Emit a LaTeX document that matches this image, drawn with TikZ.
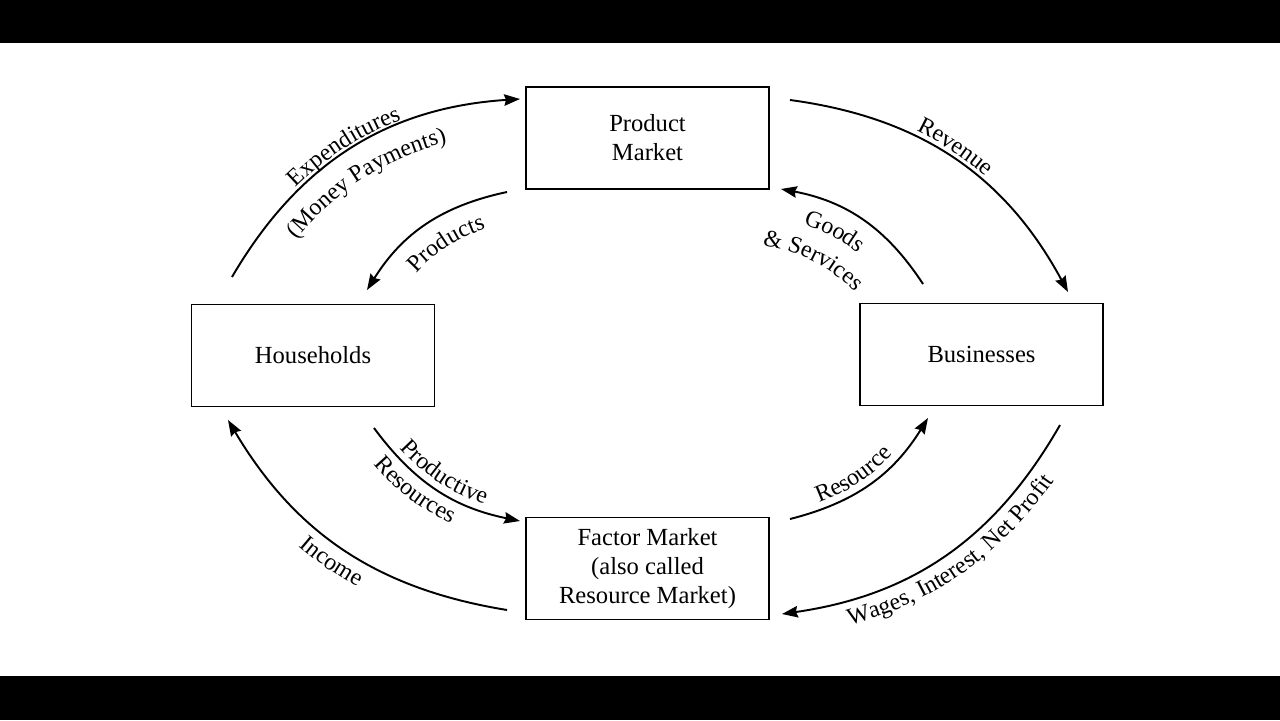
\documentclass[tikz,border=0pt]{standalone}
\usepackage{fontspec}
\setmainfont{Liberation Serif}
\usetikzlibrary{arrows.meta,decorations.text,calc}
\newcommand\lblfont{\fontsize{13.6}{16}\selectfont}
\begin{document}
\begin{tikzpicture}[x=0.02cm,y=-0.02cm,
  box/.style={draw, line width=1.1pt, minimum width=4.86cm, minimum height=2.04cm, align=center, font=\fontsize{14}{16.5}\selectfont, inner sep=0pt},
  flow/.style={line width=1.1pt, -{Stealth[length=9pt,width=6.5pt,inset=1pt]}},
  ctext/.style 2 args={decorate, decoration={text along path, text align={#1}, text={|\lblfont|#2}}}]
\useasboundingbox (0,0) rectangle (1280,720);
\fill[black] (0,0) rectangle (1280,43);
\fill[black] (0,676) rectangle (1280,720);
% boxes
\node[box] (pm) at (647.5,138) {Product\\Market};
\node[box] (hh) at (313,355.5) {Households};
\node[box] (bs) at (981.5,354.5) {Businesses};
\node[box] (fm) at (647.5,568.5) {Factor Market\\(also called\\Resource Market)};
% connector ends
\coordinate (exA) at (232,277);  \coordinate (exB) at (520,99);
\coordinate (prA) at (507,192);  \coordinate (prB) at (367,290);
\coordinate (rvA) at (790,100);  \coordinate (rvB) at (1068,292);
\coordinate (gsA) at (923,284);  \coordinate (gsB) at (781,189);
\coordinate (gsC) at (740,403.7);
\coordinate (psA) at (374,428);  \coordinate (psB) at (520,521);
\coordinate (inA) at (507,610);  \coordinate (inB) at (228,420);
\coordinate (rsA) at (790,519);  \coordinate (rsB) at (928,418);
\coordinate (wgA) at (1060,425); \coordinate (wgB) at (782,614);
% connectors
\draw[flow] (exA) to[bend left=28] (exB);
\draw[flow] (prA) to[bend right=23] (prB);
\draw[flow] (rvA) to[bend left=27] (rvB);
\draw[flow] (gsA) to[bend right=23] (gsB);
\draw[flow] (psA) to[bend right=21] (psB);
\draw[flow] (inA) to[bend left=25] (inB);
\draw[flow] (rsA) to[bend right=22] (rsB);
\draw[flow] (wgA) to[bend left=26] (wgB);
% labels along curves parallel to the connectors
\path[ctext={center, right indent=6pt}{Expenditures}]
  ($(exA)!2pt!118:(exB)$) to[bend left=28] ($(exB)!2pt!-118:(exA)$);
\path[ctext={center, right indent=6pt}{(Money Payments)}]
  ($(exA)!-18pt!118:(exB)$) to[bend left=28] ($(exB)!-18pt!-118:(exA)$);
\path[ctext={center, left indent=7pt}{Products}]
  ($(prB)!-17pt!113:(prA)$) to[bend left=23] ($(prA)!-17pt!-113:(prB)$);
\path[ctext={center, right indent=7pt}{Revenue}]
  ($(rvA)!3pt!117:(rvB)$) to[bend left=27] ($(rvB)!3pt!-117:(rvA)$);
\path[ctext={center, right indent=19pt}{Goods}]
  ($(gsB)!-16.5pt!113:(gsA)$) to[bend left=23] ($(gsA)!-16.5pt!-113:(gsB)$);
\path[ctext={center}{{\&} Services}]
  ($(gsC)+(-93:160)$) arc[start angle=-93, end angle=-33, radius=160];
\path[ctext={center, right indent=4pt}{Productive}]
  ($(psA)!4pt!69:(psB)$) to[bend right=21] ($(psB)!4pt!-69:(psA)$);
\path[ctext={center, right indent=22pt}{Resources}]
  ($(psA)!-13pt!69:(psB)$) to[bend right=21] ($(psB)!-13pt!-69:(psA)$);
\path[ctext={center, right indent=4pt}{Income}]
  ($(inB)!-14pt!65:(inA)$) to[bend right=25] ($(inA)!-14pt!-65:(inB)$);
\path[ctext={center, right indent=10pt}{Resource}]
  ($(rsA)!4pt!68:(rsB)$) to[bend right=22] ($(rsB)!4pt!-68:(rsA)$);
\path[ctext={center, left indent=8pt}{Wages, Interest, Net Profit}]
  ($(wgB)!-14pt!64:(wgA)$) to[bend right=26] ($(wgA)!-14pt!-64:(wgB)$);
\end{tikzpicture}
\end{document}
